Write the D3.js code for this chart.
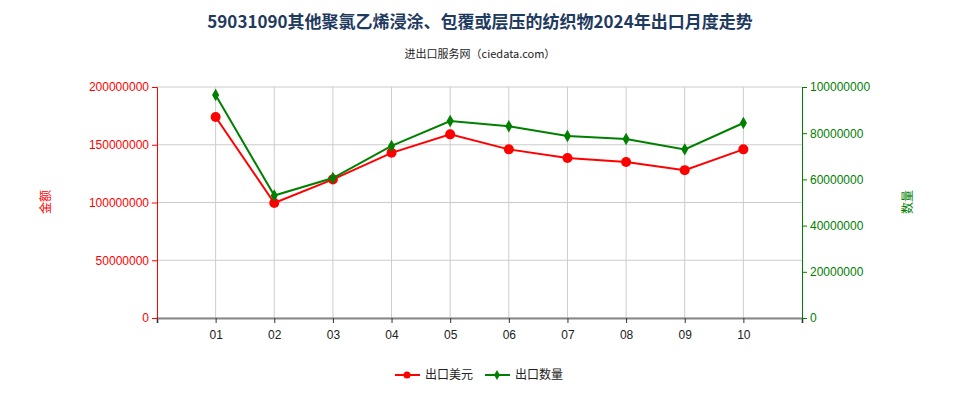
<!DOCTYPE html><html><head><meta charset="utf-8"><script src="https://cdn.jsdelivr.net/npm/d3@7"></script>
<style>body{margin:0;background:#fff;font-family:"Noto Sans CJK SC","Noto Sans",sans-serif}</style></head><body><svg id="c" width="960" height="400"></svg>
<script>
const months=["01","02","03","04","05","06","07","08","09","10"];
const amount=[174000000,99600000,120000000,143000000,159000000,146000000,138500000,135000000,128000000,146000000];
const quantity=[96500000,53000000,60600000,74500000,85300000,83000000,78800000,77500000,73000000,84400000];
const leftTicks=[0,50000000,100000000,150000000,200000000];
const rightTicks=[0,20000000,40000000,60000000,80000000,100000000];
const svg=d3.select("#c");
const L=157,R=802,T=87,B=318;
const x=d3.scaleLinear().domain([0,11]).range([L,R]);
const yl=d3.scaleLinear().domain([0,200000000]).range([B,T]);
const yr=d3.scaleLinear().domain([0,100000000]).range([B,T]);
svg.append("text").attr("x",480).attr("y",28).attr("text-anchor","middle").attr("font-size",17).attr("font-weight","bold").attr("fill","#1f3a5f").text("59031090其他聚氯乙烯浸涂、包覆或层压的纺织物2024年出口月度走势");
svg.append("text").attr("x",480).attr("y",58).attr("text-anchor","middle").attr("font-size",11).attr("fill","#222").text("进出口服务网（ciedata.com）");
const g=svg.append("g");
leftTicks.forEach(t=>{g.append("line").attr("x1",L).attr("x2",R).attr("y1",yl(t)).attr("y2",yl(t)).attr("stroke","#ccc");});
months.forEach((m,i)=>{g.append("line").attr("x1",x(i+1)).attr("x2",x(i+1)).attr("y1",T).attr("y2",B).attr("stroke","#ccc");});
const ax=svg.append("g").attr("transform",`translate(0,${B})`).call(d3.axisBottom(x).tickValues(d3.range(0,12)).tickFormat(d=>months[d-1]||"").tickSize(5));
ax.select(".domain").attr("stroke","#888").attr("stroke-width",2);ax.selectAll("line").attr("stroke","#333");ax.selectAll("text").attr("font-size",12).attr("fill","#222").attr("dy","1.1em");
const al=svg.append("g").attr("transform",`translate(${L},0)`).call(d3.axisLeft(yl).tickValues(leftTicks).tickFormat(d3.format("d")).tickSize(5));
al.selectAll("path,line").attr("stroke","red");al.selectAll("text").attr("fill","red").attr("font-size",12);
const ar=svg.append("g").attr("transform",`translate(${R},0)`).call(d3.axisRight(yr).tickValues(rightTicks).tickFormat(d3.format("d")).tickSize(5));
ar.selectAll("path,line").attr("stroke","green");ar.selectAll("text").attr("fill","green").attr("font-size",12);
svg.append("text").attr("transform","translate(50,202) rotate(-90)").attr("text-anchor","middle").attr("font-size",12).attr("fill","red").text("金额");
svg.append("text").attr("transform","translate(912,202) rotate(-90)").attr("text-anchor","middle").attr("font-size",12).attr("fill","green").text("数量");
const lr=d3.line().x((d,i)=>x(i+1)).y(d=>yl(d));
const lg=d3.line().x((d,i)=>x(i+1)).y(d=>yr(d));
svg.append("path").attr("d",lr(amount)).attr("fill","none").attr("stroke","red").attr("stroke-width",2);
svg.selectAll(".pr").data(amount).enter().append("circle").attr("cx",(d,i)=>x(i+1)).attr("cy",d=>yl(d)).attr("r",5).attr("fill","red");
svg.append("path").attr("d",lg(quantity)).attr("fill","none").attr("stroke","green").attr("stroke-width",2);
svg.selectAll(".pg").data(quantity).enter().append("path").attr("d",d3.symbol(d3.symbolDiamond,45)()).attr("transform",(d,i)=>`translate(${x(i+1)},${yr(d)})`).attr("fill","green");
const lgd=svg.append("g");
lgd.append("line").attr("x1",395).attr("x2",420).attr("y1",375).attr("y2",375).attr("stroke","red").attr("stroke-width",2);
lgd.append("circle").attr("cx",407).attr("cy",375).attr("r",3.5).attr("fill","red");
lgd.append("text").attr("x",425).attr("y",379).attr("font-size",12).attr("fill","#222").text("出口美元");
lgd.append("line").attr("x1",485).attr("x2",510).attr("y1",375).attr("y2",375).attr("stroke","green").attr("stroke-width",2);
lgd.append("path").attr("d",d3.symbol(d3.symbolDiamond,30)()).attr("transform","translate(497,375)").attr("fill","green");
lgd.append("text").attr("x",515).attr("y",379).attr("font-size",12).attr("fill","#222").text("出口数量");
</script></body></html>
